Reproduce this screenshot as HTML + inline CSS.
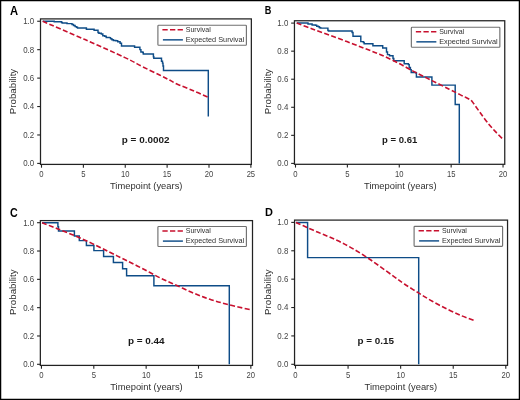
<!DOCTYPE html>
<html><head><meta charset="utf-8"><style>
html,body{margin:0;padding:0;background:#fff;}
body{width:520px;height:400px;overflow:hidden;}
svg{display:block;will-change:transform;font-family:"Liberation Sans",sans-serif;}
</style></head><body>
<svg width="520" height="400" viewBox="0 0 520 400">
<rect x="0" y="0" width="520" height="400" fill="#fff"/>
<rect x="0.6" y="0.6" width="518.8" height="398.8" fill="none" stroke="#000" stroke-width="1.3"/>
<text x="10.1" y="14.5" font-size="12.3" font-weight="bold" fill="#000" textLength="8.1" lengthAdjust="spacingAndGlyphs">A</text>
<rect x="40.5" y="18.9" width="210.85" height="145.5" fill="none" stroke="#222" stroke-width="1.25"/>
<line x1="37.2" y1="163.40" x2="40.5" y2="163.40" stroke="#222" stroke-width="1.1"/>
<text x="34.2" y="166.30" font-size="8.6" fill="#444" text-anchor="end" textLength="11" lengthAdjust="spacingAndGlyphs">0.0</text>
<line x1="37.2" y1="134.97" x2="40.5" y2="134.97" stroke="#222" stroke-width="1.1"/>
<text x="34.2" y="137.87" font-size="8.6" fill="#444" text-anchor="end" textLength="11" lengthAdjust="spacingAndGlyphs">0.2</text>
<line x1="37.2" y1="106.54" x2="40.5" y2="106.54" stroke="#222" stroke-width="1.1"/>
<text x="34.2" y="109.44" font-size="8.6" fill="#444" text-anchor="end" textLength="11" lengthAdjust="spacingAndGlyphs">0.4</text>
<line x1="37.2" y1="78.11" x2="40.5" y2="78.11" stroke="#222" stroke-width="1.1"/>
<text x="34.2" y="81.01" font-size="8.6" fill="#444" text-anchor="end" textLength="11" lengthAdjust="spacingAndGlyphs">0.6</text>
<line x1="37.2" y1="49.68" x2="40.5" y2="49.68" stroke="#222" stroke-width="1.1"/>
<text x="34.2" y="52.58" font-size="8.6" fill="#444" text-anchor="end" textLength="11" lengthAdjust="spacingAndGlyphs">0.8</text>
<line x1="37.2" y1="21.25" x2="40.5" y2="21.25" stroke="#222" stroke-width="1.1"/>
<text x="34.2" y="24.15" font-size="8.6" fill="#444" text-anchor="end" textLength="11" lengthAdjust="spacingAndGlyphs">1.0</text>
<line x1="41.50" y1="164.4" x2="41.50" y2="167.70000000000002" stroke="#222" stroke-width="1.1"/>
<text x="41.50" y="177.00" font-size="8.6" fill="#444" text-anchor="middle" textLength="4.3" lengthAdjust="spacingAndGlyphs">0</text>
<line x1="83.38" y1="164.4" x2="83.38" y2="167.70000000000002" stroke="#222" stroke-width="1.1"/>
<text x="83.38" y="177.00" font-size="8.6" fill="#444" text-anchor="middle" textLength="4.3" lengthAdjust="spacingAndGlyphs">5</text>
<line x1="125.25" y1="164.4" x2="125.25" y2="167.70000000000002" stroke="#222" stroke-width="1.1"/>
<text x="125.25" y="177.00" font-size="8.6" fill="#444" text-anchor="middle" textLength="8.5" lengthAdjust="spacingAndGlyphs">10</text>
<line x1="167.12" y1="164.4" x2="167.12" y2="167.70000000000002" stroke="#222" stroke-width="1.1"/>
<text x="167.12" y="177.00" font-size="8.6" fill="#444" text-anchor="middle" textLength="8.5" lengthAdjust="spacingAndGlyphs">15</text>
<line x1="209.00" y1="164.4" x2="209.00" y2="167.70000000000002" stroke="#222" stroke-width="1.1"/>
<text x="209.00" y="177.00" font-size="8.6" fill="#444" text-anchor="middle" textLength="8.5" lengthAdjust="spacingAndGlyphs">20</text>
<line x1="250.88" y1="164.4" x2="250.88" y2="167.70000000000002" stroke="#222" stroke-width="1.1"/>
<text x="250.88" y="177.00" font-size="8.6" fill="#444" text-anchor="middle" textLength="8.5" lengthAdjust="spacingAndGlyphs">25</text>
<text x="146.2" y="188.9" font-size="9.9" fill="#303030" text-anchor="middle" textLength="72.5" lengthAdjust="spacingAndGlyphs">Timepoint (years)</text>
<text transform="translate(16.3,91.5) rotate(-90)" x="0" y="0" font-size="9.9" fill="#303030" text-anchor="middle" textLength="45.5" lengthAdjust="spacingAndGlyphs">Probability</text>
<text x="121.8" y="142.8" font-size="9.7" font-weight="bold" fill="#1a1a1a" textLength="47.7" lengthAdjust="spacingAndGlyphs">p = 0.0002</text>
<path d="M42.70,21.20 H52.30 V21.20 H54.20 V21.80 H60.80 V21.80 H61.50 V22.40 H62.30 V23.00 H66.20 V23.00 H67.00 V23.60 H70.80 V23.60 H72.00 V24.50 H73.50 V25.50 H75.10 V26.60 H76.50 V27.30 H77.50 V27.90 H85.20 V27.90 H86.40 V29.30 H93.20 V29.30 H94.10 V30.30 H97.00 V30.30 H98.00 V32.60 H98.90 V33.30 H101.30 V34.00 H102.80 V35.70 H104.70 V36.20 H106.20 V37.40 H109.50 V37.60 H110.50 V38.80 H111.90 V39.80 H113.40 V40.50 H115.80 V40.80 H117.70 V41.70 H120.10 V43.30 H121.50 V45.90 H134.20 V45.90 H134.60 V47.20 H139.40 V47.20 H139.90 V49.60 H140.90 V52.00 H142.80 V52.50 H143.30 V53.90 H152.90 V53.90 H153.40 V56.80 H153.80 V58.30 H161.00 V58.30 H161.50 V61.20 H162.50 V63.10 H163.00 V66.00 H163.50 V70.40 H208.30 V70.40 H208.30 V116.60" fill="none" stroke="#0e4c87" stroke-width="1.45" stroke-linejoin="miter"/>
<path d="M42.70,21.30 C49.75,24.35 71.28,33.55 85.00,39.60 C98.72,45.65 115.45,53.10 125.00,57.60 C134.55,62.10 136.53,63.70 142.30,66.60 C148.07,69.50 154.98,72.72 159.60,75.00 C164.22,77.28 167.12,78.80 170.00,80.30 C172.88,81.80 172.87,82.20 176.90,84.00 C180.93,85.80 188.97,88.87 194.20,91.10 C199.43,93.33 205.95,96.35 208.30,97.40" fill="none" stroke="#c8102e" stroke-width="1.6" stroke-dasharray="5,2.35"/>
<rect x="157.9" y="25.25" width="88.5" height="20.0" rx="0.8" fill="#fff" stroke="#707070" stroke-width="1.15"/>
<line x1="162.4" y1="29.7" x2="182.9" y2="29.7" stroke="#c8102e" stroke-width="1.5" stroke-dasharray="5.3,2.3"/>
<line x1="162.9" y1="39.85" x2="182.9" y2="39.85" stroke="#0e4c87" stroke-width="1.45"/>
<text x="185.70000000000002" y="31.8" font-size="7.3" fill="#303030" textLength="25" lengthAdjust="spacingAndGlyphs">Survival</text>
<text x="185.70000000000002" y="41.5" font-size="7.3" fill="#303030" textLength="58.5" lengthAdjust="spacingAndGlyphs">Expected Survival</text>
<text x="264.8" y="14.45" font-size="11.6" font-weight="bold" fill="#000" textLength="6.6" lengthAdjust="spacingAndGlyphs">B</text>
<rect x="294.45" y="20.75" width="210.3" height="143.55" fill="none" stroke="#222" stroke-width="1.25"/>
<line x1="291.15" y1="163.40" x2="294.45" y2="163.40" stroke="#222" stroke-width="1.1"/>
<text x="288.3" y="166.30" font-size="8.6" fill="#444" text-anchor="end" textLength="11" lengthAdjust="spacingAndGlyphs">0.0</text>
<line x1="291.15" y1="135.34" x2="294.45" y2="135.34" stroke="#222" stroke-width="1.1"/>
<text x="288.3" y="138.24" font-size="8.6" fill="#444" text-anchor="end" textLength="11" lengthAdjust="spacingAndGlyphs">0.2</text>
<line x1="291.15" y1="107.28" x2="294.45" y2="107.28" stroke="#222" stroke-width="1.1"/>
<text x="288.3" y="110.18" font-size="8.6" fill="#444" text-anchor="end" textLength="11" lengthAdjust="spacingAndGlyphs">0.4</text>
<line x1="291.15" y1="79.22" x2="294.45" y2="79.22" stroke="#222" stroke-width="1.1"/>
<text x="288.3" y="82.12" font-size="8.6" fill="#444" text-anchor="end" textLength="11" lengthAdjust="spacingAndGlyphs">0.6</text>
<line x1="291.15" y1="51.16" x2="294.45" y2="51.16" stroke="#222" stroke-width="1.1"/>
<text x="288.3" y="54.06" font-size="8.6" fill="#444" text-anchor="end" textLength="11" lengthAdjust="spacingAndGlyphs">0.8</text>
<line x1="291.15" y1="23.10" x2="294.45" y2="23.10" stroke="#222" stroke-width="1.1"/>
<text x="288.3" y="26.00" font-size="8.6" fill="#444" text-anchor="end" textLength="11" lengthAdjust="spacingAndGlyphs">1.0</text>
<line x1="295.50" y1="164.3" x2="295.50" y2="167.60000000000002" stroke="#222" stroke-width="1.1"/>
<text x="295.50" y="176.90" font-size="8.6" fill="#444" text-anchor="middle" textLength="4.3" lengthAdjust="spacingAndGlyphs">0</text>
<line x1="347.38" y1="164.3" x2="347.38" y2="167.60000000000002" stroke="#222" stroke-width="1.1"/>
<text x="347.38" y="176.90" font-size="8.6" fill="#444" text-anchor="middle" textLength="4.3" lengthAdjust="spacingAndGlyphs">5</text>
<line x1="399.27" y1="164.3" x2="399.27" y2="167.60000000000002" stroke="#222" stroke-width="1.1"/>
<text x="399.27" y="176.90" font-size="8.6" fill="#444" text-anchor="middle" textLength="8.5" lengthAdjust="spacingAndGlyphs">10</text>
<line x1="451.15" y1="164.3" x2="451.15" y2="167.60000000000002" stroke="#222" stroke-width="1.1"/>
<text x="451.15" y="176.90" font-size="8.6" fill="#444" text-anchor="middle" textLength="8.5" lengthAdjust="spacingAndGlyphs">15</text>
<line x1="503.04" y1="164.3" x2="503.04" y2="167.60000000000002" stroke="#222" stroke-width="1.1"/>
<text x="503.04" y="176.90" font-size="8.6" fill="#444" text-anchor="middle" textLength="8.5" lengthAdjust="spacingAndGlyphs">20</text>
<text x="400.3" y="188.8" font-size="9.9" fill="#303030" text-anchor="middle" textLength="72.5" lengthAdjust="spacingAndGlyphs">Timepoint (years)</text>
<text transform="translate(271.3,91.5) rotate(-90)" x="0" y="0" font-size="9.9" fill="#303030" text-anchor="middle" textLength="45.5" lengthAdjust="spacingAndGlyphs">Probability</text>
<text x="382.1" y="142.9" font-size="9.7" font-weight="bold" fill="#1a1a1a" textLength="35.2" lengthAdjust="spacingAndGlyphs">p = 0.61</text>
<path d="M296.75,22.90 H307.40 V22.90 H308.00 V23.90 H311.50 V23.90 H312.10 V24.90 H315.50 V25.30 H316.70 V26.20 H318.40 V26.80 H319.50 V27.70 H320.70 V28.10 H326.20 V28.10 H327.90 V30.40 H328.70 V31.00 H350.40 V31.00 H352.10 V32.50 H353.00 V36.30 H359.90 V36.30 H360.80 V41.60 H363.40 V42.50 H364.20 V43.80 H372.00 V43.80 H372.90 V45.70 H381.90 V45.70 H382.70 V47.90 H385.80 V47.90 H386.50 V51.90 H387.50 V54.60 H389.50 V55.70 H393.00 V58.50 H393.80 V60.70 H403.50 V60.70 H404.20 V63.80 H408.40 V64.60 H409.20 V67.50 H410.40 V69.60 H411.20 V72.50 H415.80 V72.70 H416.40 V76.90 H431.90 V76.90 H431.90 V85.10 H455.20 V85.10 H455.20 V104.50 H459.30 V104.50 H459.30 V163.60" fill="none" stroke="#0e4c87" stroke-width="1.45" stroke-linejoin="miter"/>
<path d="M296.75,23.10 C299.34,24.08 306.82,26.98 312.30,29.00 C317.78,31.02 323.83,33.10 329.60,35.20 C335.37,37.30 341.13,39.42 346.90,41.60 C352.67,43.78 358.68,46.17 364.20,48.30 C369.72,50.43 374.48,52.02 380.00,54.40 C385.52,56.78 391.53,59.68 397.30,62.60 C403.07,65.52 408.83,68.90 414.60,71.90 C420.37,74.90 426.13,77.72 431.90,80.60 C437.67,83.48 444.52,86.87 449.20,89.20 C453.88,91.53 457.20,93.22 460.00,94.60 C462.80,95.98 464.17,96.58 466.00,97.50 C467.83,98.42 470.17,99.67 471.00,100.10 L471.00,100.10 C471.33,100.52 471.40,100.40 473.00,102.60 C474.60,104.80 477.97,109.70 480.60,113.30 C483.23,116.90 486.28,121.10 488.80,124.20 C491.32,127.30 493.25,129.30 495.70,131.90 C498.15,134.50 502.20,138.48 503.50,139.80" fill="none" stroke="#c8102e" stroke-width="1.6" stroke-dasharray="5,2.35"/>
<rect x="411.35" y="27.25" width="88.5" height="20.0" rx="0.8" fill="#fff" stroke="#707070" stroke-width="1.15"/>
<line x1="415.85" y1="31.7" x2="436.35" y2="31.7" stroke="#c8102e" stroke-width="1.5" stroke-dasharray="5.3,2.3"/>
<line x1="416.35" y1="41.85" x2="436.35" y2="41.85" stroke="#0e4c87" stroke-width="1.45"/>
<text x="439.15000000000003" y="33.8" font-size="7.3" fill="#303030" textLength="25" lengthAdjust="spacingAndGlyphs">Survival</text>
<text x="439.15000000000003" y="43.5" font-size="7.3" fill="#303030" textLength="58.5" lengthAdjust="spacingAndGlyphs">Expected Survival</text>
<text x="10.0" y="216.6" font-size="12.1" font-weight="bold" fill="#000" textLength="7.7" lengthAdjust="spacingAndGlyphs">C</text>
<rect x="40.35" y="220.6" width="212.15" height="144.79999999999998" fill="none" stroke="#222" stroke-width="1.25"/>
<line x1="37.050000000000004" y1="364.30" x2="40.35" y2="364.30" stroke="#222" stroke-width="1.1"/>
<text x="34.2" y="367.20" font-size="8.6" fill="#444" text-anchor="end" textLength="11" lengthAdjust="spacingAndGlyphs">0.0</text>
<line x1="37.050000000000004" y1="335.98" x2="40.35" y2="335.98" stroke="#222" stroke-width="1.1"/>
<text x="34.2" y="338.88" font-size="8.6" fill="#444" text-anchor="end" textLength="11" lengthAdjust="spacingAndGlyphs">0.2</text>
<line x1="37.050000000000004" y1="307.66" x2="40.35" y2="307.66" stroke="#222" stroke-width="1.1"/>
<text x="34.2" y="310.56" font-size="8.6" fill="#444" text-anchor="end" textLength="11" lengthAdjust="spacingAndGlyphs">0.4</text>
<line x1="37.050000000000004" y1="279.34" x2="40.35" y2="279.34" stroke="#222" stroke-width="1.1"/>
<text x="34.2" y="282.24" font-size="8.6" fill="#444" text-anchor="end" textLength="11" lengthAdjust="spacingAndGlyphs">0.6</text>
<line x1="37.050000000000004" y1="251.02" x2="40.35" y2="251.02" stroke="#222" stroke-width="1.1"/>
<text x="34.2" y="253.92" font-size="8.6" fill="#444" text-anchor="end" textLength="11" lengthAdjust="spacingAndGlyphs">0.8</text>
<line x1="37.050000000000004" y1="222.70" x2="40.35" y2="222.70" stroke="#222" stroke-width="1.1"/>
<text x="34.2" y="225.60" font-size="8.6" fill="#444" text-anchor="end" textLength="11" lengthAdjust="spacingAndGlyphs">1.0</text>
<line x1="41.45" y1="365.4" x2="41.45" y2="368.7" stroke="#222" stroke-width="1.1"/>
<text x="41.45" y="378.00" font-size="8.6" fill="#444" text-anchor="middle" textLength="4.3" lengthAdjust="spacingAndGlyphs">0</text>
<line x1="93.80" y1="365.4" x2="93.80" y2="368.7" stroke="#222" stroke-width="1.1"/>
<text x="93.80" y="378.00" font-size="8.6" fill="#444" text-anchor="middle" textLength="4.3" lengthAdjust="spacingAndGlyphs">5</text>
<line x1="146.15" y1="365.4" x2="146.15" y2="368.7" stroke="#222" stroke-width="1.1"/>
<text x="146.15" y="378.00" font-size="8.6" fill="#444" text-anchor="middle" textLength="8.5" lengthAdjust="spacingAndGlyphs">10</text>
<line x1="198.50" y1="365.4" x2="198.50" y2="368.7" stroke="#222" stroke-width="1.1"/>
<text x="198.50" y="378.00" font-size="8.6" fill="#444" text-anchor="middle" textLength="8.5" lengthAdjust="spacingAndGlyphs">15</text>
<line x1="250.85" y1="365.4" x2="250.85" y2="368.7" stroke="#222" stroke-width="1.1"/>
<text x="250.85" y="378.00" font-size="8.6" fill="#444" text-anchor="middle" textLength="8.5" lengthAdjust="spacingAndGlyphs">20</text>
<text x="146.5" y="390.2" font-size="9.9" fill="#303030" text-anchor="middle" textLength="72.5" lengthAdjust="spacingAndGlyphs">Timepoint (years)</text>
<text transform="translate(16.3,292.2) rotate(-90)" x="0" y="0" font-size="9.9" fill="#303030" text-anchor="middle" textLength="45.5" lengthAdjust="spacingAndGlyphs">Probability</text>
<text x="127.9" y="343.5" font-size="9.7" font-weight="bold" fill="#1a1a1a" textLength="36.7" lengthAdjust="spacingAndGlyphs">p = 0.44</text>
<path d="M42.00,222.70 H57.90 V222.70 H57.90 V226.70 H58.50 V226.70 H58.50 V230.90 H74.40 V230.90 H74.40 V236.00 H79.30 V236.00 H79.30 V240.60 H86.40 V240.60 H86.40 V245.50 H93.90 V245.50 H93.90 V250.60 H103.60 V250.60 H103.60 V256.50 H113.40 V256.50 H113.40 V262.40 H122.60 V262.40 H122.60 V268.80 H126.60 V268.80 H126.60 V275.80 H153.90 V275.80 H153.90 V285.70 H229.30 V285.70 H229.30 V364.30" fill="none" stroke="#0e4c87" stroke-width="1.45" stroke-linejoin="miter"/>
<path d="M42.00,222.70 C44.55,223.70 51.87,226.55 57.30,228.70 C62.73,230.85 68.83,233.15 74.60,235.60 C80.37,238.05 86.13,240.67 91.90,243.40 C97.67,246.13 103.68,249.27 109.20,252.00 C114.72,254.73 119.48,257.05 125.00,259.80 C130.52,262.55 136.53,265.53 142.30,268.50 C148.07,271.47 153.83,274.75 159.60,277.60 C165.37,280.45 171.13,282.97 176.90,285.60 C182.67,288.23 188.57,291.07 194.20,293.40 C199.83,295.73 204.87,297.70 210.70,299.60 C216.53,301.50 222.45,303.08 229.20,304.80 C235.95,306.52 247.53,309.05 251.20,309.90" fill="none" stroke="#c8102e" stroke-width="1.6" stroke-dasharray="5,2.35"/>
<rect x="157.9" y="226.5" width="88.5" height="20.0" rx="0.8" fill="#fff" stroke="#707070" stroke-width="1.15"/>
<line x1="162.4" y1="230.95" x2="182.9" y2="230.95" stroke="#c8102e" stroke-width="1.5" stroke-dasharray="5.3,2.3"/>
<line x1="162.9" y1="241.1" x2="182.9" y2="241.1" stroke="#0e4c87" stroke-width="1.45"/>
<text x="185.70000000000002" y="233.05" font-size="7.3" fill="#303030" textLength="25" lengthAdjust="spacingAndGlyphs">Survival</text>
<text x="185.70000000000002" y="242.75" font-size="7.3" fill="#303030" textLength="58.5" lengthAdjust="spacingAndGlyphs">Expected Survival</text>
<text x="264.9" y="216.2" font-size="11.6" font-weight="bold" fill="#000" textLength="7.9" lengthAdjust="spacingAndGlyphs">D</text>
<rect x="294.55" y="220.1" width="212.99" height="145.25000000000003" fill="none" stroke="#222" stroke-width="1.25"/>
<line x1="291.25" y1="364.30" x2="294.55" y2="364.30" stroke="#222" stroke-width="1.1"/>
<text x="288.3" y="367.20" font-size="8.6" fill="#444" text-anchor="end" textLength="11" lengthAdjust="spacingAndGlyphs">0.0</text>
<line x1="291.25" y1="335.92" x2="294.55" y2="335.92" stroke="#222" stroke-width="1.1"/>
<text x="288.3" y="338.82" font-size="8.6" fill="#444" text-anchor="end" textLength="11" lengthAdjust="spacingAndGlyphs">0.2</text>
<line x1="291.25" y1="307.54" x2="294.55" y2="307.54" stroke="#222" stroke-width="1.1"/>
<text x="288.3" y="310.44" font-size="8.6" fill="#444" text-anchor="end" textLength="11" lengthAdjust="spacingAndGlyphs">0.4</text>
<line x1="291.25" y1="279.16" x2="294.55" y2="279.16" stroke="#222" stroke-width="1.1"/>
<text x="288.3" y="282.06" font-size="8.6" fill="#444" text-anchor="end" textLength="11" lengthAdjust="spacingAndGlyphs">0.6</text>
<line x1="291.25" y1="250.78" x2="294.55" y2="250.78" stroke="#222" stroke-width="1.1"/>
<text x="288.3" y="253.68" font-size="8.6" fill="#444" text-anchor="end" textLength="11" lengthAdjust="spacingAndGlyphs">0.8</text>
<line x1="291.25" y1="222.40" x2="294.55" y2="222.40" stroke="#222" stroke-width="1.1"/>
<text x="288.3" y="225.30" font-size="8.6" fill="#444" text-anchor="end" textLength="11" lengthAdjust="spacingAndGlyphs">1.0</text>
<line x1="295.50" y1="365.35" x2="295.50" y2="368.65000000000003" stroke="#222" stroke-width="1.1"/>
<text x="295.50" y="377.95" font-size="8.6" fill="#444" text-anchor="middle" textLength="4.3" lengthAdjust="spacingAndGlyphs">0</text>
<line x1="348.07" y1="365.35" x2="348.07" y2="368.65000000000003" stroke="#222" stroke-width="1.1"/>
<text x="348.07" y="377.95" font-size="8.6" fill="#444" text-anchor="middle" textLength="4.3" lengthAdjust="spacingAndGlyphs">5</text>
<line x1="400.65" y1="365.35" x2="400.65" y2="368.65000000000003" stroke="#222" stroke-width="1.1"/>
<text x="400.65" y="377.95" font-size="8.6" fill="#444" text-anchor="middle" textLength="8.5" lengthAdjust="spacingAndGlyphs">10</text>
<line x1="453.23" y1="365.35" x2="453.23" y2="368.65000000000003" stroke="#222" stroke-width="1.1"/>
<text x="453.23" y="377.95" font-size="8.6" fill="#444" text-anchor="middle" textLength="8.5" lengthAdjust="spacingAndGlyphs">15</text>
<line x1="505.80" y1="365.35" x2="505.80" y2="368.65000000000003" stroke="#222" stroke-width="1.1"/>
<text x="505.80" y="377.95" font-size="8.6" fill="#444" text-anchor="middle" textLength="8.5" lengthAdjust="spacingAndGlyphs">20</text>
<text x="400.8" y="389.6" font-size="9.9" fill="#303030" text-anchor="middle" textLength="72.5" lengthAdjust="spacingAndGlyphs">Timepoint (years)</text>
<text transform="translate(271.3,292.2) rotate(-90)" x="0" y="0" font-size="9.9" fill="#303030" text-anchor="middle" textLength="45.5" lengthAdjust="spacingAndGlyphs">Probability</text>
<text x="357.5" y="343.5" font-size="9.7" font-weight="bold" fill="#1a1a1a" textLength="36.5" lengthAdjust="spacingAndGlyphs">p = 0.15</text>
<path d="M295.90,222.40 H307.60 V222.40 H307.60 V257.60 H418.70 V257.60 H418.70 V364.30" fill="none" stroke="#0e4c87" stroke-width="1.45" stroke-linejoin="miter"/>
<path d="M295.90,222.40 C297.67,223.20 302.80,225.55 306.50,227.20 C310.20,228.85 314.25,230.65 318.10,232.30 C321.95,233.95 325.75,235.42 329.60,237.10 C333.45,238.78 337.35,240.48 341.20,242.40 C345.05,244.32 348.53,246.18 352.70,248.60 C356.87,251.02 361.72,253.97 366.20,256.90 C370.68,259.83 374.97,262.92 379.60,266.20 C384.23,269.48 389.87,273.63 394.00,276.60 C398.13,279.57 400.32,281.28 404.40,284.00 C408.48,286.72 413.85,290.02 418.50,292.90 C423.15,295.78 427.43,298.55 432.30,301.30 C437.17,304.05 442.88,307.02 447.70,309.40 C452.52,311.78 456.78,313.73 461.20,315.60 C465.62,317.47 472.03,319.77 474.20,320.60" fill="none" stroke="#c8102e" stroke-width="1.6" stroke-dasharray="5,2.35"/>
<rect x="414.1" y="226.3" width="88.5" height="20.0" rx="0.8" fill="#fff" stroke="#707070" stroke-width="1.15"/>
<line x1="418.6" y1="230.75" x2="439.1" y2="230.75" stroke="#c8102e" stroke-width="1.5" stroke-dasharray="5.3,2.3"/>
<line x1="419.1" y1="240.9" x2="439.1" y2="240.9" stroke="#0e4c87" stroke-width="1.45"/>
<text x="441.90000000000003" y="232.85000000000002" font-size="7.3" fill="#303030" textLength="25" lengthAdjust="spacingAndGlyphs">Survival</text>
<text x="441.90000000000003" y="242.55" font-size="7.3" fill="#303030" textLength="58.5" lengthAdjust="spacingAndGlyphs">Expected Survival</text>
</svg>
</body></html>
